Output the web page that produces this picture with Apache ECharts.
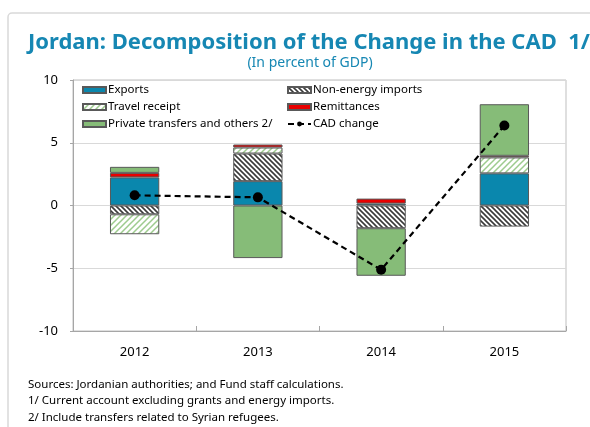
<!DOCTYPE html>
<html>
<head>
<meta charset="utf-8">
<script src="https://cdn.jsdelivr.net/npm/echarts@6/dist/echarts.min.js"></script>
<style>
html,body{margin:0;padding:0;background:#fff;}
#c{width:590px;height:427px;}
</style>
</head>
<body>
<div id="c"></div>
<script>
const categories = ['2012', '2013', '2014', '2015'];
const exportsVals = [2.24, 1.94, 0.15, 2.56];
const nonEnergyImports = [-0.70, 2.20, -1.81, -1.68];
const travelReceipt = [-1.59, 0.48, null, 1.27];
const remittances = [0.36, 0.24, 0.40, 0.13];
const privateTransfers = [0.48, -4.19, -3.79, 4.11];
const cadChange = [0.81, 0.65, -5.12, 6.37];
const yTicks = { min: -10, max: 10, interval: 5 };

function hatch(color, bg, size, dir, lw) {
  const c = document.createElement('canvas');
  c.width = size; c.height = size;
  const g = c.getContext('2d');
  g.fillStyle = bg; g.fillRect(0, 0, size, size);
  g.strokeStyle = color; g.lineWidth = lw; g.beginPath();
  if (dir === 'back') {
    g.moveTo(-1, -1); g.lineTo(size + 1, size + 1);
    g.moveTo(-1, size - 1); g.lineTo(1, size + 1);
    g.moveTo(size - 1, -1); g.lineTo(size + 1, 1);
  } else {
    g.moveTo(-1, size + 1); g.lineTo(size + 1, -1);
    g.moveTo(-1, 1); g.lineTo(1, -1);
    g.moveTo(size - 1, size + 1); g.lineTo(size + 1, size - 1);
  }
  g.stroke();
  return { image: c, repeat: 'repeat' };
}

const blue = '#0A87AD';
const green = '#86BC78';
const red = '#E80000';
const nonEnergyFill = hatch('#3a3a3a', '#ffffff', 5, 'back', 1.6);
const travelFill = hatch('#9DCB8E', '#ffffff', 6, 'fwd', 1.5);
const border = { borderColor: '#595959', borderWidth: 1 };
const font = '"Noto Sans", "Open Sans", sans-serif';
const teal = '#1687B3';

const chart = echarts.init(document.getElementById('c'), null, { renderer: 'canvas' });

function barSeries(name, data, color) {
  return {
    name: name, type: 'bar', stack: 'cad', data: data,
    barWidth: '40%',
    itemStyle: Object.assign({ color: color }, border),
    emphasis: { disabled: true }
  };
}

const legendText = { fontSize: 11.5, color: '#000', fontFamily: font, lineHeight: 14, padding: [0, 0, 0, -3] };

const option = {
  animation: false,
  textStyle: { fontFamily: font },
  grid: {
    left: 73, right: 24, top: 80, bottom: 96,
    show: true, borderColor: '#BFBFBF', borderWidth: 1
  },
  legend: [
    {
      orient: 'vertical', left: 82, top: 83, itemGap: 3, padding: 0,
      itemWidth: 23, itemHeight: 6,
      textStyle: legendText,
      data: [
        { name: 'Exports', icon: 'rect' },
        { name: 'Travel receipt', icon: 'rect' },
        { name: 'Private transfers and others 2/', icon: 'rect' }
      ]
    },
    {
      orient: 'vertical', left: 287, top: 83, itemGap: 3, padding: 0,
      itemWidth: 23, itemHeight: 6,
      textStyle: legendText,
      data: [
        { name: 'Non-energy imports', icon: 'rect' },
        { name: 'Remittances', icon: 'rect' },
        { name: 'CAD change' }
      ]
    }
  ],
  xAxis: {
    type: 'category', data: categories,
    axisLine: { onZero: false, lineStyle: { color: '#A6A6A6' } },
    axisTick: { show: true, inside: true, length: 5, lineStyle: { color: '#A6A6A6' } },
    axisLabel: { color: '#000', fontSize: 13, margin: 15, fontFamily: font }
  },
  yAxis: {
    type: 'value', min: yTicks.min, max: yTicks.max, interval: yTicks.interval,
    axisLine: { show: true, lineStyle: { color: '#A6A6A6' } },
    axisTick: { show: true, length: 3, lineStyle: { color: '#A6A6A6' } },
    axisLabel: { color: '#000', fontSize: 13, margin: 15, fontFamily: font },
    splitLine: { lineStyle: { color: '#D9D9D9' } }
  },
  series: [
    barSeries('Exports', exportsVals, blue),
    barSeries('Non-energy imports', nonEnergyImports, nonEnergyFill),
    barSeries('Travel receipt', travelReceipt, travelFill),
    barSeries('Remittances', remittances, red),
    barSeries('Private transfers and others 2/', privateTransfers, green),
    {
      name: 'CAD change', type: 'line', data: cadChange,
      symbol: 'circle', symbolSize: 10,
      itemStyle: { color: '#000' },
      lineStyle: { color: '#000', width: 2.2, type: [6, 4] },
      emphasis: { disabled: true },
      z: 10
    }
  ],
  graphic: [
    {
      type: 'rect', silent: true, z: -1,
      shape: { x: 8, y: 13, width: 640, height: 460, r: 4 },
      style: { fill: 'none', stroke: '#D9D9D9', lineWidth: 1.5 }
    },
    {
      type: 'text', x: 309, y: 32, z: 10,
      style: {
        text: 'Jordan: Decomposition of the Change in the CAD  1/',
        font: 'bold 22px ' + font, fill: teal, align: 'center', verticalAlign: 'top'
      }
    },
    {
      type: 'text', x: 310, y: 56,
      style: { text: '(In percent of GDP)', font: '14px ' + font, fill: teal, align: 'center', verticalAlign: 'top' }
    },
    {
      type: 'text', left: 28, top: 376,
      style: {
        text: 'Sources: Jordanian authorities; and Fund staff calculations.\n1/ Current account excluding grants and energy imports.\n2/ Include transfers related to Syrian refugees.',
        font: '11.5px ' + font, fill: '#000', lineHeight: 16.5
      }
    }
  ]
};
chart.setOption(option);
</script>
</body>
</html>
